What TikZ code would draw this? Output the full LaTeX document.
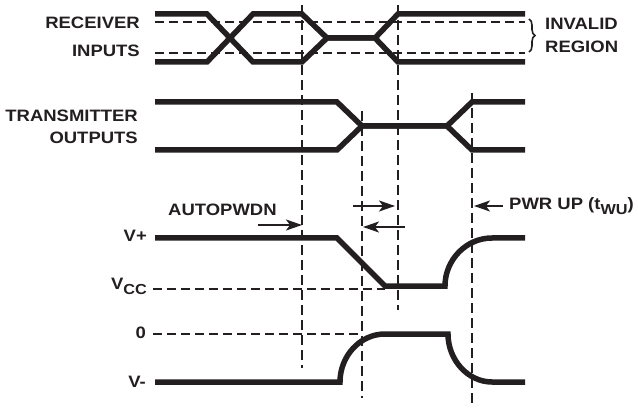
\documentclass[tikz,border=0pt]{standalone}
\usepackage{fontspec}
\setmainfont{Liberation Sans}[FakeStretch=1.12]
\usetikzlibrary{arrows.meta,decorations.pathreplacing}
\definecolor{ink}{RGB}{35,31,32}
\newcommand{\lowsub}[1]{\raisebox{-4.5pt}{\fontsize{14.5}{14.5}\selectfont #1}}

\begin{document}
\begin{tikzpicture}[x=1pt, y=-1pt,
    wave/.style={line width=5.5pt, ink},
    guide/.style={line width=1.8pt, ink, dash pattern=on 10pt off 5pt},
    level/.style={line width=1.8pt, ink, dash pattern=on 9pt off 5pt},
    marker/.style={line width=1.8pt, ink, -{Stealth[length=16pt,width=11pt,inset=4pt]}},
    lbl/.style={inner sep=0pt, ink, font=\fontsize{16.5}{18}\selectfont\bfseries}
]
\useasboundingbox (0,0) rectangle (638,409);

% Arrow end points
\coordinate (AP1) at (258,225);
\coordinate (AP2) at (302,225);
\coordinate (R1)  at (353,206);
\coordinate (R2)  at (395,206);
\coordinate (L1)  at (405,227);
\coordinate (L2)  at (363,227);
\coordinate (PU1) at (503,206);
\coordinate (PU2) at (474,206);

% Invalid region and level guides
\draw[level] (155,22) -- (525,22);
\draw[level] (155,53) -- (525,53);
\draw[level] (153,289) -- (385,289);
\draw[level] (153,334) -- (362,334);

% Vertical timing guides
\draw[guide] (302,5)   -- (302,368);
\draw[guide] (398,5)   -- (398,310);
\draw[guide] (362,111) -- (362,398);
\draw[guide] (472,93)  -- (472,407);

% Receiver inputs
\draw[wave] (155,14) -- (207,14) -- (253,62) -- (302,62) -- (327,38)
            -- (375,38) -- (398,14) -- (525,14);
\draw[wave] (155,62) -- (207,62) -- (253,14) -- (302,14) -- (327,38)
            -- (375,38) -- (398,62) -- (525,62);

% Transmitter outputs
\draw[wave] (155,102) -- (337,102) -- (362,126) -- (447,126) -- (472,102) -- (525,102);
\draw[wave] (155,150) -- (337,150) -- (362,126) -- (447,126) -- (472,150) -- (525,150);

% Supplies
\draw[wave] (155,238) -- (337,238) -- (385,286) -- (445,286)
            .. controls (445,260) and (466,238) .. (492,238) -- (525,238);
\draw[wave] (155,382) -- (340,382) .. controls (340,356) and (360,334) .. (385,334)
            -- (448,334) .. controls (448,360) and (468,382) .. (492,382) -- (525,382);

% Brace
\draw[ink, line width=1.6pt, decorate, decoration={brace, amplitude=6pt}]
    (529,19) -- (529,52);

% Arrows
\draw[marker] (AP1) -- (AP2);
\draw[marker] (R1) -- (R2);
\draw[marker] (L1) -- (L2);
\draw[marker] (PU1) -- (PU2);

% Labels
\node[lbl, anchor=base east] (rcv)  at (140,29)  {RECEIVER};
\node[lbl, anchor=base east] (inp)  at (140,57)  {INPUTS};
\node[lbl, anchor=base east] (tx)   at (138,122) {TRANSMITTER};
\node[lbl, anchor=base east] (outp) at (138,144) {OUTPUTS};
\node[lbl, anchor=base west] (inv)  at (545,30)  {INVALID};
\node[lbl, anchor=base west] (reg)  at (545,53)  {REGION};
\node[lbl, anchor=base west] (apd)  at (168,215) {AUTOPWDN};
\node[lbl, anchor=base west] (pwr)  at (509,210) {PWR UP (t\lowsub{WU})};
\node[lbl, anchor=base east] (vp)   at (147,242) {V+};
\node[lbl, anchor=base east] (vcc)  at (147,290) {V\lowsub{CC}};
\node[lbl, anchor=base east] (zero) at (146,338) {0};
\node[lbl, anchor=base east] (vm)   at (146,387) {V-};

\end{tikzpicture}
\end{document}
